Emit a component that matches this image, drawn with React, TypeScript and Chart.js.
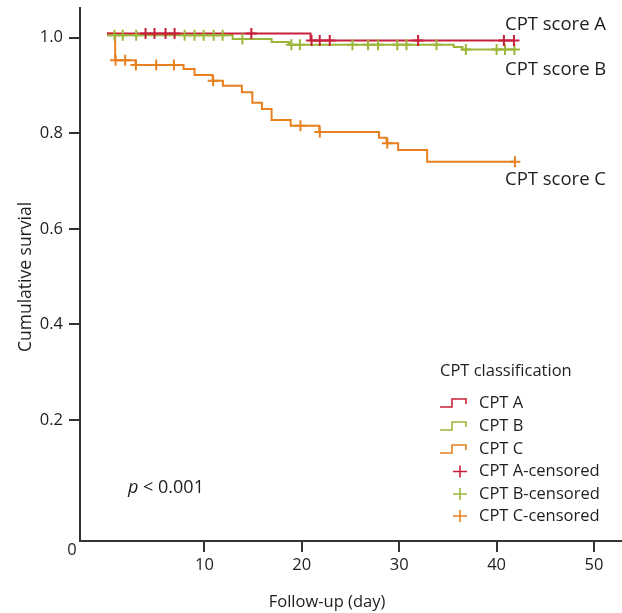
import React, { useEffect, useRef } from 'react';
import { Chart, registerables } from 'chart.js';

Chart.register(...registerables);

const FONT = '"Open Sans", "Noto Sans", sans-serif';
const TEXT = '#1e1e1e';
const AXIS = '#333333';

const RED = '#c7203b';
const GREEN = '#9bb63a';
const ORANGE = '#e8801f';

// CPT A: Kaplan-Meier step points (time in days, survival)
const aTimes = [0, 20.9, 41.8];
const aSurv = [1.0088, 0.9942, 0.9942];
const aCensTimes = [3.96, 4.88, 6.01, 6.94, 14.82, 21.0, 21.84, 22.87, 31.94, 40.75, 41.78];
const aCensSurv = [1.0088, 1.0088, 1.0088, 1.0088, 1.0088, 0.9942, 0.9942, 0.9942, 0.9942, 0.9942, 0.9942];

// CPT B
const bTimes = [0, 12.9, 16.9, 18.7, 35.6, 36.5, 41.85];
const bSurv = [1.005, 0.997, 0.991, 0.9854, 0.9805, 0.9753, 0.9753];
const bCensTimes = [0.77, 1.62, 3.0, 7.97, 8.99, 9.92, 10.95, 11.87, 13.9, 18.93, 19.8, 25.2, 26.8, 27.83, 29.8, 30.75, 33.83, 36.84, 40.0, 40.86, 41.83];
const bCensSurv = [1.005, 1.005, 1.005, 1.005, 1.005, 1.005, 1.005, 1.005, 0.997, 0.9854, 0.9854, 0.9854, 0.9854, 0.9854, 0.9854, 0.9854, 0.9854, 0.9753, 0.9753, 0.9753, 0.9753];

// CPT C
const cTimes = [0, 0.84, 2.93, 7.86, 8.99, 10.85, 11.9, 13.85, 14.92, 15.91, 16.9, 18.86, 21.8, 27.93, 28.7, 29.89, 32.87, 41.88];
const cSurv = [1.0088, 0.9527, 0.9429, 0.9345, 0.922, 0.91, 0.8996, 0.8858, 0.864, 0.851, 0.828, 0.816, 0.8027, 0.7908, 0.779, 0.765, 0.7406, 0.7406];
const cCensTimes = [0.88, 1.87, 2.97, 5.06, 6.87, 10.9, 19.86, 21.85, 28.78, 41.88];
const cCensSurv = [0.9527, 0.9527, 0.9429, 0.9429, 0.9429, 0.91, 0.816, 0.8027, 0.779, 0.7406];

const xTicks = [10, 20, 30, 40, 50];
const yTicks = [0.2, 0.4, 0.6, 0.8, 1.0];

const curveLabels = ['CPT score A', 'CPT score B', 'CPT score C'];
const legendTitle = 'CPT classification';
const legendLines = ['CPT A', 'CPT B', 'CPT C'];
const legendCensored = ['CPT A-censored', 'CPT B-censored', 'CPT C-censored'];

const toPts = (t: number[], s: number[]) => t.map((x, i) => ({ x, y: s[i] }));

const textPlugin = {
  id: 'extraTexts',
  afterDraw(chart: any) {
    const ctx = chart.ctx as CanvasRenderingContext2D;
    ctx.save();
    ctx.fillStyle = TEXT;
    ctx.textBaseline = 'middle';

    // origin label
    ctx.font = `16.5px ${FONT}`;
    ctx.textAlign = 'center';
    ctx.fillText('0', 72, 550);

    // axis titles
    ctx.font = `16.5px ${FONT}`;
    ctx.fillText('Follow-up (day)', 327, 602);
    ctx.save();
    ctx.translate(26, 277);
    ctx.rotate(-Math.PI / 2);
    ctx.font = `17.5px ${FONT}`;
    ctx.fillText('Cumulative survial', 0, 0);
    ctx.restore();

    // curve labels
    ctx.textAlign = 'left';
    ctx.font = `18.5px ${FONT}`;
    ctx.fillText(curveLabels[0], 505, 25);
    ctx.fillText(curveLabels[1], 505, 70);
    ctx.fillText(curveLabels[2], 505, 180);

    // p value
    ctx.font = `italic 18px ${FONT}`;
    ctx.fillText('p', 128, 488);
    const pw = ctx.measureText('p').width;
    ctx.font = `18px ${FONT}`;
    ctx.fillText(' < 0.001', 128 + pw, 488);

    // legend
    ctx.font = `16.5px ${FONT}`;
    ctx.fillText(legendTitle, 440, 371);
    const rows = [403, 426, 449, 471.5, 494, 516];
    const cols = [RED, GREEN, ORANGE];
    for (let i = 0; i < 3; i++) {
      const y = rows[i];
      ctx.strokeStyle = cols[i];
      ctx.lineWidth = 1.6;
      ctx.beginPath();
      ctx.moveTo(440, y + 4);
      ctx.lineTo(452, y + 4);
      ctx.lineTo(452, y - 4);
      ctx.lineTo(466, y - 4);
      ctx.lineTo(466, y + 1);
      ctx.stroke();
      ctx.fillText(legendLines[i], 479, y);
    }
    for (let i = 0; i < 3; i++) {
      const y = rows[i + 3];
      ctx.strokeStyle = cols[i];
      ctx.lineWidth = 1.6;
      ctx.beginPath();
      ctx.moveTo(460, y - 6);
      ctx.lineTo(460, y + 6);
      ctx.moveTo(453, y);
      ctx.lineTo(467, y);
      ctx.stroke();
      ctx.fillText(legendCensored[i], 479, y);
    }
    ctx.restore();
  },
};

const zeroPad = (s: any) => {
  s.paddingTop = 0;
  s.paddingBottom = 0;
  s.paddingLeft = 0;
  s.paddingRight = 0;
};

export default function App() {
  const ref = useRef<HTMLCanvasElement | null>(null);

  useEffect(() => {
    if (!ref.current) return;
    const lineDs = (data: any, color: string) => ({
      type: 'line',
      data,
      borderColor: color,
      backgroundColor: color,
      borderWidth: 2,
      stepped: 'before',
      pointRadius: 0,
      fill: false,
    });
    const censDs = (data: any, color: string) => ({
      type: 'line',
      data,
      showLine: false,
      borderColor: color,
      backgroundColor: color,
      pointStyle: 'cross',
      pointRadius: 5.5,
      pointBorderWidth: 2,
      borderWidth: 2,
    });
    const chart = new Chart(ref.current, {
      type: 'line',
      data: {
        datasets: [
          censDs(toPts(aCensTimes, aCensSurv), RED),
          censDs(toPts(bCensTimes, bCensSurv), GREEN),
          censDs(toPts(cCensTimes, cCensSurv), ORANGE),
          lineDs(toPts(aTimes, aSurv), RED),
          lineDs(toPts(bTimes, bSurv), GREEN),
          lineDs(toPts(cTimes, cSurv), ORANGE),
        ] as any,
      },
      options: {
        animation: false,
        responsive: false,
        layout: { autoPadding: false, padding: { left: 0, top: 8, right: 1, bottom: 0 } },
        plugins: { legend: { display: false }, tooltip: { enabled: false } },
        scales: {
          x: {
            type: 'linear',
            min: -2.77,
            max: 52.77,
            afterFit: (s: any) => { s.height = 72; zeroPad(s); },
            afterBuildTicks: (s: any) => { s.ticks = xTicks.map((v) => ({ value: v })); },
            grid: { display: true, drawOnChartArea: false, drawTicks: true, tickLength: 11, lineWidth: 2, color: AXIS },
            border: { display: true, width: 2, color: AXIS },
            ticks: { font: { family: FONT, size: 16.5 }, color: TEXT, padding: 3, callback: (v: any) => String(v) },
          },
          y: {
            type: 'linear',
            min: -0.053,
            max: 1.0621,
            afterFit: (s: any) => { s.width = 80; zeroPad(s); },
            afterBuildTicks: (s: any) => { s.ticks = yTicks.map((v) => ({ value: v })); },
            grid: { display: true, drawOnChartArea: false, drawTicks: true, tickLength: 11, lineWidth: 2, color: AXIS },
            border: { display: true, width: 2, color: AXIS },
            ticks: { font: { family: FONT, size: 16.5 }, color: TEXT, padding: 6, callback: (v: any) => Number(v).toFixed(1) },
          },
        },
      } as any,
      plugins: [textPlugin],
    });
    return () => chart.destroy();
  }, []);

  return (
    <div style={{ position: 'absolute', left: 0, top: 0, width: 622, height: 613, background: '#fff' }}>
      <canvas ref={ref} width={622} height={613} style={{ display: 'block' }} />
    </div>
  );
}
